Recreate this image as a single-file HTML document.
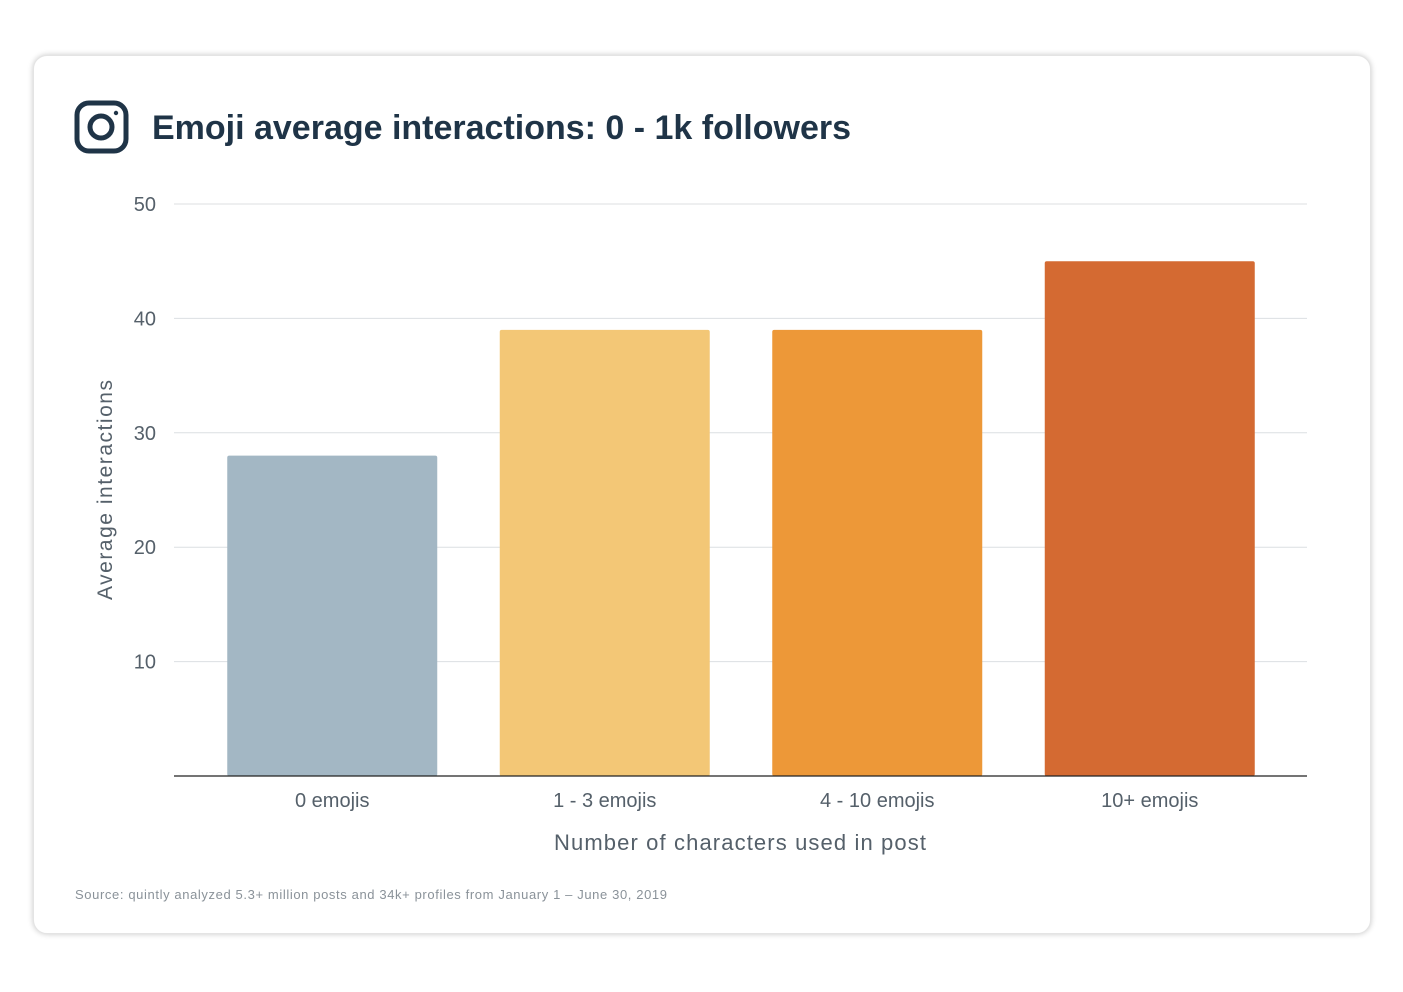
<!DOCTYPE html>
<html><head><meta charset="utf-8"><style>
body{margin:0;width:1403px;height:992px;background:#fff;font-family:"Liberation Sans",sans-serif;overflow:hidden}
#card{position:absolute;left:33px;top:55px;width:1336px;height:877px;border-radius:14px;background:#fff;box-shadow:0 0 6px rgba(0,0,0,.22);border:1px solid #e4e4e4}
svg{position:absolute;left:0;top:0}
</style></head><body>
<div id="card"></div>
<svg id="chart" width="1403" height="992">
<g fill="none" stroke="#1f3447">
<rect x="77" y="103" width="49" height="48" rx="12" stroke-width="5"/>
<circle cx="101" cy="127" r="11" stroke-width="5"/>
<circle cx="116" cy="113" r="2.2" fill="#1f3447" stroke="none"/>
</g>
<text x="152" y="139" font-size="34" font-weight="bold" fill="#1f3447" textLength="699">Emoji average interactions: 0 - 1k followers</text>
<g id="grid"></g><g id="bars"></g><g id="xlabels"></g>
<text transform="translate(112,490) rotate(-90)" text-anchor="middle" font-size="21" fill="#55606a" textLength="220">Average interactions</text>
<text x="740" y="850" text-anchor="middle" font-size="22" fill="#55606a" textLength="372">Number of characters used in post</text>
<text x="75" y="899" font-size="13" fill="#8a9299" textLength="592">Source: quintly analyzed 5.3+ million posts and 34k+ profiles from January 1 – June 30, 2019</text>
</svg>
<script>
const categories=["0 emojis","1 - 3 emojis","4 - 10 emojis","10+ emojis"];
const values=[28,39,39,45];
const yTicks=[10,20,30,40,50];
const colors=["#a3b7c4","#f3c776","#ed9838","#d46a32"];
const NS="http://www.w3.org/2000/svg";
const x0=174,x1=1307,b0=196,b1=1286,yBase=776,yTop=204,yMax=50;
const y=v=>yBase-(yBase-yTop)*v/yMax;
const band=(b1-b0)/categories.length,bw=210;
const xc=i=>b0+band*(i+0.5);
function mk(t,a,p){const e=document.createElementNS(NS,t);for(const k in a)e.setAttribute(k,a[k]);p.appendChild(e);return e;}
const g=document.getElementById('grid');
yTicks.forEach(t=>{
 const l=mk('line',{x1:x0,x2:x1,y1:y(t),y2:y(t),stroke:'#dcdfe2','stroke-width':1},g);
 
 
 const tx=mk('text',{x:156,y:y(t)+7,'text-anchor':'end','font-size':20,fill:'#55606a'},g);
 tx.textContent=t;
 
 
});
const b=document.getElementById('bars');
values.forEach((v,i)=>{
 const r=mk('rect',{x:xc(i)-bw/2,y:y(v),width:bw,height:yBase-y(v),fill:colors[i],rx:2},b);
 
 
 const tx=mk('text',{x:xc(i),y:807,'text-anchor':'middle','font-size':20,fill:'#55606a'},document.getElementById('xlabels'));
 tx.textContent=categories[i];
 
 
});
const ax=mk('line',{x1:x0,x2:x1,y1:yBase,y2:yBase,stroke:'#222','stroke-width':1.3},b);


</script>
</body></html>
